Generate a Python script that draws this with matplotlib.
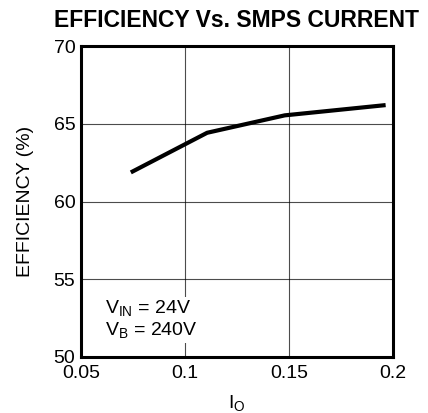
import matplotlib
matplotlib.use("Agg")
import matplotlib.pyplot as plt

# Werte
strom = [0.074, 0.1107, 0.148, 0.1965]
effizienz = [61.87, 64.42, 65.54, 66.2]

x_ticks = [0.05, 0.1, 0.15, 0.2]
x_labels = ["0.05", "0.1", "0.15", "0.2"]
y_ticks = [50, 55, 60, 65, 70]

plt.rcParams["font.family"] = ["Liberation Sans", "DejaVu Sans"]
plt.rcParams["mathtext.fontset"] = "custom"
plt.rcParams["mathtext.rm"] = "Liberation Sans"

fig = plt.figure(figsize=(4.28, 4.13), dpi=100)
ax = fig.add_axes([0.189, 0.1356, 0.729, 0.753])

ax.plot(strom, effizienz, color="black", linewidth=3, solid_capstyle="butt", zorder=3)

ax.set_xlim(0.05, 0.2)
ax.set_ylim(50, 70)
ax.set_xticks(x_ticks)
ax.set_xticklabels(x_labels)
ax.set_yticks(y_ticks)
ax.tick_params(length=0, labelsize=14)
ax.tick_params(axis="x", pad=6)
ax.tick_params(axis="y", pad=4)
ax.grid(True, color="black", linewidth=0.8, alpha=0.7)
for sp in ax.spines.values():
    sp.set_linewidth(2.2)

ax.set_ylabel("EFFICIENCY (%)", fontsize=14, labelpad=14)
ax.set_xlabel(r"I$_\mathregular{O}$", fontsize=14, labelpad=8)

# Beschriftung der Randbedingungen
ax.text(0.0615, 52.8, r"V$_\mathregular{IN}$ = 24V", fontsize=14, va="baseline",
        bbox=dict(facecolor="white", edgecolor="none", pad=1), zorder=4)
ax.text(0.0615, 51.35, r"V$_\mathregular{B}$ = 240V", fontsize=14, va="baseline",
        bbox=dict(facecolor="white", edgecolor="none", pad=1), zorder=4)

fig.text(0.189 + 0.729 / 2, 0.935, "EFFICIENCY Vs. SMPS CURRENT", fontsize=16.5,
         fontweight="bold", ha="center", va="baseline")

fig.savefig("out.png", dpi=100)
